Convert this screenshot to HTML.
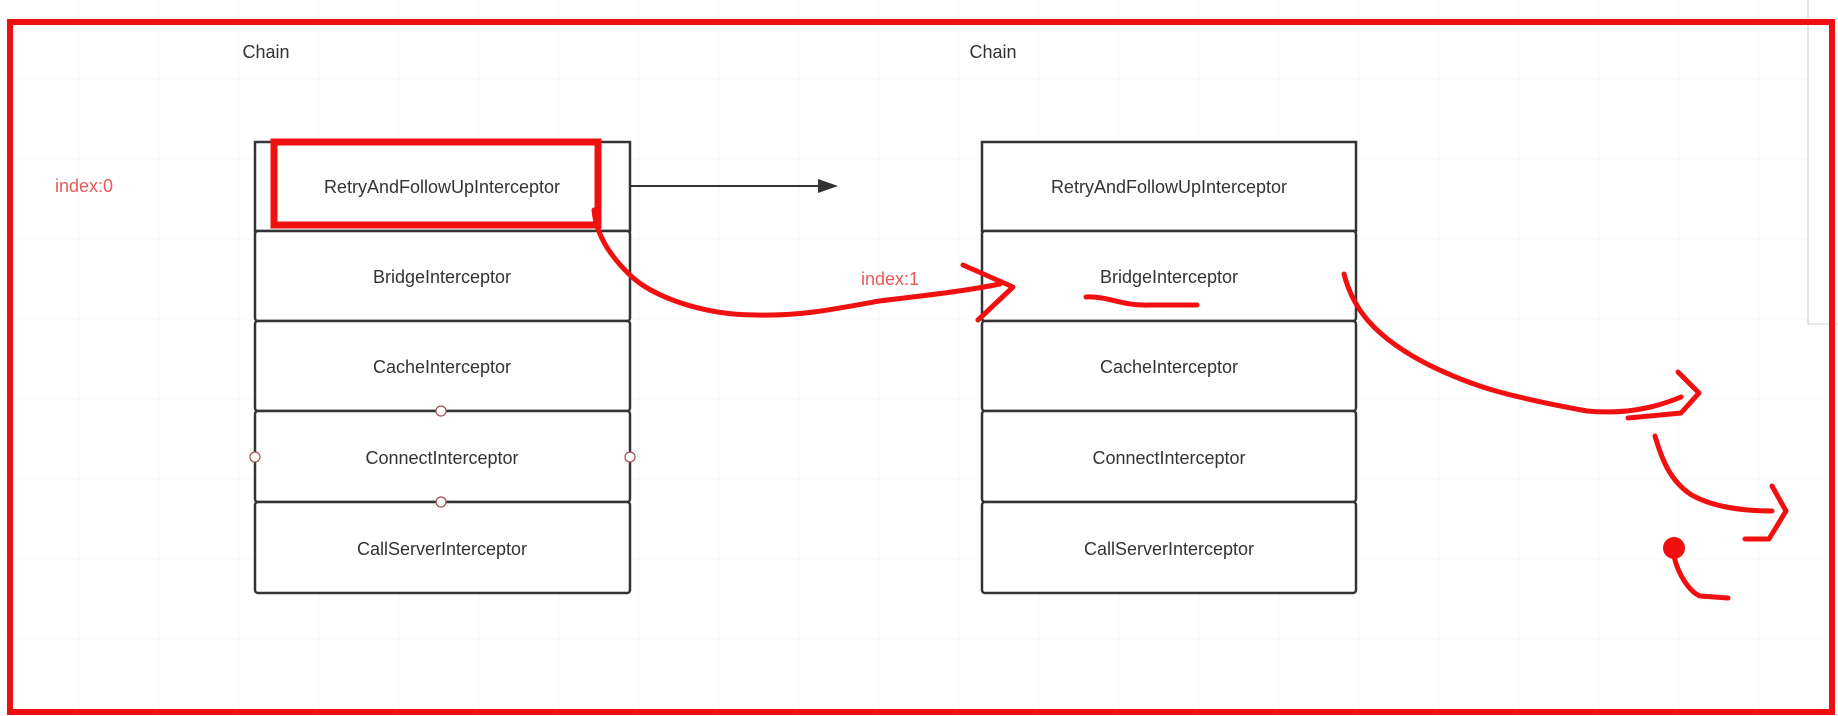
<!DOCTYPE html>
<html><head><meta charset="utf-8"><style>
html,body{margin:0;padding:0;background:#fff;}
body{width:1838px;height:716px;overflow:hidden;position:relative;font-family:"Liberation Sans",sans-serif;}
svg{position:absolute;left:0;top:0;}
</style></head><body>
<svg width="1838" height="716" viewBox="0 0 1838 716">
<defs>
<pattern id="g" width="80" height="80" patternUnits="userSpaceOnUse"><path d="M80 0V80M0 80H80" stroke="#f5f5f5" stroke-width="1" fill="none"/></pattern>
</defs>
<rect width="1838" height="716" fill="url(#g)"/>
<rect x="1808" y="-2" width="40" height="326" fill="#fff" stroke="#ccc"/>
<g font-size="18" fill="#333" text-anchor="middle" dominant-baseline="central">
<text x="266" y="52">Chain</text>
<text x="993" y="52">Chain</text>
</g>
<g font-size="18" fill="#e85a5a" dominant-baseline="central">
<text x="55" y="186">index:0</text>
<text x="861" y="279">index:1</text>
</g>
<g fill="#fff" stroke="#333" stroke-width="2.5">
<rect x="255" y="142" width="375" height="89"/>
<rect x="255" y="231" width="375" height="90" rx="3"/>
<rect x="255" y="321" width="375" height="90" rx="3"/>
<rect x="255" y="411" width="375" height="91" rx="3"/>
<rect x="255" y="502" width="375" height="91" rx="3"/>
<rect x="982" y="142" width="374" height="89"/>
<rect x="982" y="231" width="374" height="90" rx="3"/>
<rect x="982" y="321" width="374" height="90" rx="3"/>
<rect x="982" y="411" width="374" height="91" rx="3"/>
<rect x="982" y="502" width="374" height="91" rx="3"/>
</g>
<g fill="#fff" stroke="#a05050" stroke-width="1.2">
<circle cx="441" cy="411" r="5"/><circle cx="441" cy="502" r="5"/>
<circle cx="255" cy="457" r="5"/><circle cx="630" cy="457" r="5"/>
</g>
<g font-size="18" fill="#333" text-anchor="middle" dominant-baseline="central">
<text x="442" y="187">RetryAndFollowUpInterceptor</text>
<text x="442" y="277">BridgeInterceptor</text>
<text x="442" y="367">CacheInterceptor</text>
<text x="442" y="458">ConnectInterceptor</text>
<text x="442" y="549">CallServerInterceptor</text>
<text x="1169" y="187">RetryAndFollowUpInterceptor</text>
<text x="1169" y="277">BridgeInterceptor</text>
<text x="1169" y="367">CacheInterceptor</text>
<text x="1169" y="458">ConnectInterceptor</text>
<text x="1169" y="549">CallServerInterceptor</text>
</g>
<line x1="630" y1="186" x2="822" y2="186" stroke="#333" stroke-width="2"/>
<polygon points="838,186 818,179 818,193" fill="#333"/>
<rect x="274" y="142" width="324" height="83" fill="none" stroke="#f01010" stroke-width="7"/>
<rect x="10" y="22" width="1822" height="690" fill="none" stroke="#f01010" stroke-width="6"/>
<g fill="none" stroke="#f01010" stroke-width="5" stroke-linecap="round" stroke-linejoin="round">
<path d="M594,210 C596,235 610,256 630,275 C650,295 700,315 756,315 C800,316 830,310 879,301 C920,296 960,292 1000,284"/>
<path d="M963,265 L1013,287 L978,320"/>
<path d="M1086,297 C1110,296 1120,306 1150,305 L1197,305"/>
<path d="M1344,274 C1352,305 1370,335 1429,365 C1470,385 1500,395 1587,411 C1620,414 1650,410 1681,397"/>
<path d="M1678,372 L1699,393 L1681,413 L1628,418"/>
<path d="M1655,436 C1662,460 1670,480 1690,494 C1710,506 1740,511 1772,511"/>
<path d="M1772,486 L1786,511 L1769,539 L1745,539"/>
<path d="M1674,556 C1678,575 1690,592 1700,596 L1728,598"/>
</g>
<circle cx="1674" cy="548" r="11" fill="#f01010"/>
</svg>
</body></html>
